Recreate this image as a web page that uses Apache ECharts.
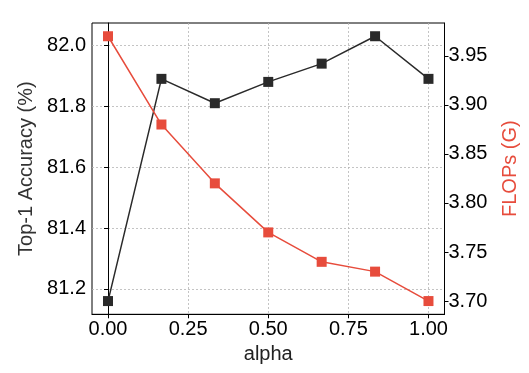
<!DOCTYPE html>
<html>
<head>
<meta charset="utf-8">
<script src="https://cdn.jsdelivr.net/npm/echarts@6/dist/echarts.min.js"></script>
<style>html,body{margin:0;padding:0;background:#fff;}#c{width:529px;height:373px;}</style>
</head>
<body>
<div id="c"></div>
<script>
const alphas = [0, 1/6, 2/6, 3/6, 4/6, 5/6, 1];
const accuracy = [81.16, 81.89, 81.81, 81.88, 81.94, 82.03, 81.89];
const flops = [3.97, 3.88, 3.82, 3.77, 3.74, 3.73, 3.70];
const xTicks = [0, 0.25, 0.5, 0.75, 1.0];
const accTicks = [81.2, 81.4, 81.6, 81.8, 82.0];
const flopsTicks = [3.70, 3.75, 3.80, 3.85, 3.90, 3.95];

const FONT = 'Liberation Sans';
const RED = '#e74c3c';
const BLACK = '#2a2a2a';
const gridLine = {show: true, lineStyle: {color: '#b5b5b5', width: 0.8, type: [2, 2]}};

const chart = echarts.init(document.getElementById('c'), null, {renderer: 'canvas'});
chart.setOption({
  animation: false,
  backgroundColor: '#fff',
  textStyle: {fontFamily: FONT},
  grid: {left: 92, right: 84.5, top: 23, bottom: 58.7, show: true, borderColor: '#000', borderWidth: 1, backgroundColor: 'transparent'},
  xAxis: {
    type: 'value', min: -0.05, max: 1.05,
    name: 'alpha', nameLocation: 'middle', nameGap: 27,
    nameTextStyle: {fontFamily: FONT, fontSize: 20, color: '#222'},
    axisLine: {show: true, onZero: false, lineStyle: {color: '#000', width: 1}},
    axisTick: {show: true, inside: false, length: 4, customValues: xTicks, lineStyle: {color: '#000'}},
    axisLabel: {customValues: xTicks, fontFamily: FONT, fontSize: 20, color: '#000', margin: 5,
      formatter: v => v.toFixed(2)},
    splitLine: gridLine
  },
  yAxis: [{
    type: 'value', position: 'left', min: 81.1165, max: 82.0735,
    name: 'Top-1 Accuracy (%)', nameLocation: 'middle', nameGap: 54, nameRotate: 90,
    nameTextStyle: {fontFamily: FONT, fontSize: 20, color: '#333'},
    axisLine: {show: true, lineStyle: {color: '#000', width: 1}},
    axisTick: {show: true, length: 4, customValues: accTicks, lineStyle: {color: '#000'}},
    axisLabel: {customValues: accTicks, fontFamily: FONT, fontSize: 20, color: '#000', margin: 6,
      formatter: v => v.toFixed(1)},
    splitLine: gridLine
  }, {
    type: 'value', position: 'right', min: 3.6865, max: 3.9835,
    name: 'FLOPs (G)', nameLocation: 'middle', nameGap: 56, nameRotate: 90,
    nameTextStyle: {fontFamily: FONT, fontSize: 20, color: RED},
    axisLine: {show: true, lineStyle: {color: '#000', width: 1}},
    axisTick: {show: true, length: 4, customValues: flopsTicks, lineStyle: {color: '#000'}},
    axisLabel: {customValues: flopsTicks, fontFamily: FONT, fontSize: 20, color: '#000', margin: 4,
      formatter: v => v.toFixed(2)},
    splitLine: {show: false}
  }],
  series: [{
    type: 'line', yAxisIndex: 0,
    data: alphas.map((a, i) => [a, accuracy[i]]),
    symbol: 'rect', symbolSize: 10,
    lineStyle: {color: BLACK, width: 1.5},
    itemStyle: {color: BLACK},
    z: 2
  }, {
    type: 'line', yAxisIndex: 1,
    data: alphas.map((a, i) => [a, flops[i]]),
    symbol: 'rect', symbolSize: 10,
    lineStyle: {color: RED, width: 1.5},
    itemStyle: {color: RED},
    z: 3
  }]
});
</script>
</body>
</html>
